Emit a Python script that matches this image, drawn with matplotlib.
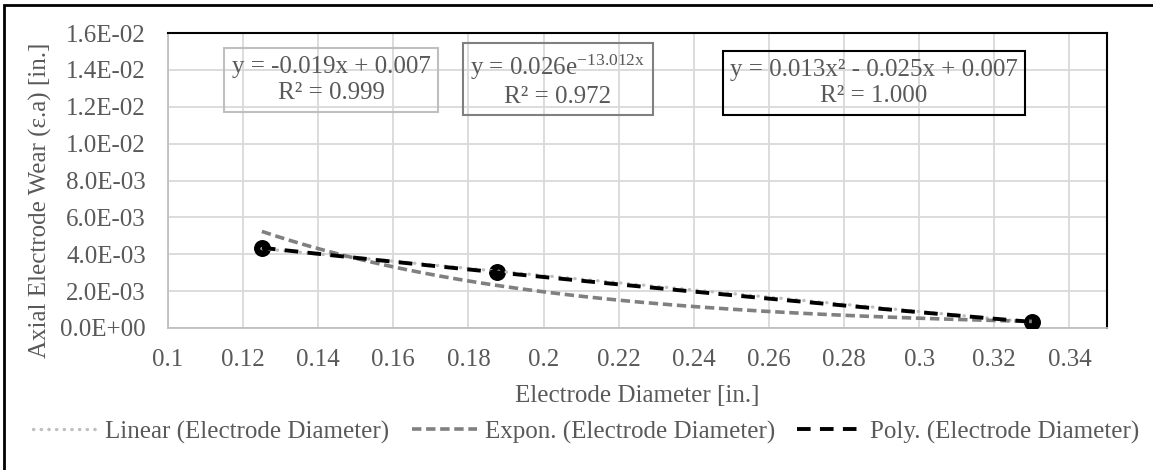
import numpy as np
import matplotlib
matplotlib.use("Agg")
import matplotlib.pyplot as plt
from matplotlib.lines import Line2D
from matplotlib.patches import Rectangle

# data
diameter = [0.125, 0.1875, 0.33]
wear = [4.35e-3, 3.02e-3, 0.33e-3]

eq_linear = "y = -0.019x + 0.007\nR² = 0.999"
eq_expon = "y = 0.026e$^{-13.012x}$\nR² = 0.972"
eq_poly = "y = 0.013x² - 0.025x + 0.007\nR² = 1.000"

legend_labels = ["Linear (Electrode Diameter)",
                 "Expon. (Electrode Diameter)",
                 "Poly. (Electrode Diameter)"]

x_ticks = [0.1, 0.12, 0.14, 0.16, 0.18, 0.2, 0.22, 0.24, 0.26, 0.28, 0.3, 0.32, 0.34]
x_tick_labels = ["0.1", "0.12", "0.14", "0.16", "0.18", "0.2", "0.22", "0.24",
                 "0.26", "0.28", "0.3", "0.32", "0.34"]
y_ticks = [0, 0.002, 0.004, 0.006, 0.008, 0.010, 0.012, 0.014, 0.016]
y_tick_labels = ["0.0E+00", "2.0E-03", "4.0E-03", "6.0E-03", "8.0E-03",
                 "1.0E-02", "1.2E-02", "1.4E-02", "1.6E-02"]

plt.rcParams["font.family"] = ["Liberation Serif", "DejaVu Serif"]
plt.rcParams["mathtext.fontset"] = "custom"
plt.rcParams["mathtext.rm"] = "Liberation Serif"
plt.rcParams["mathtext.it"] = "Liberation Serif"
plt.rcParams["mathtext.default"] = "regular"

txt = "#595959"
fs = 18

W, H = 1153, 470
fig = plt.figure(figsize=(W / 100, H / 100), dpi=100)
ax = fig.add_axes([168 / W, 1 - 328 / H, (1107 - 168) / W, (328 - 33) / H])

# trendlines (fits of the data, as Excel does)
x = np.array(diameter)
y = np.array(wear)
xs = np.linspace(x.min(), x.max(), 300)
lin = np.polyfit(x, y, 1)
ex = np.polyfit(x, np.log(y), 1)
pol = np.polyfit(x, y, 2)

ax.scatter(x, y, s=125, color="black", zorder=3)
ax.plot(xs, np.polyval(lin, xs), color="#BFBFBF", lw=2.4, linestyle=(0, (0.1, 2.2)),
        dash_capstyle="round", zorder=4)
ax.plot(xs, np.exp(np.polyval(ex, xs)), color="#808080", lw=2.6, dashes=(2.6, 1.3), zorder=4)
ax.plot(xs, np.polyval(pol, xs), color="black", lw=2.8, dashes=(3.5, 2.4), zorder=5)

ax.set_xlim(0.1, 0.35)
ax.set_ylim(0, 0.016)
ax.set_xticks(x_ticks)
ax.set_xticklabels(x_tick_labels)
ax.set_yticks(y_ticks)
ax.set_yticklabels(y_tick_labels)
ax.tick_params(axis="both", length=0, labelsize=fs, labelcolor=txt)
ax.tick_params(axis="y", pad=16)
ax.tick_params(axis="x", pad=15)
ax.grid(True, color="#D9D9D9", lw=1.3)
ax.set_axisbelow(True)
for s in ["left", "bottom"]:
    ax.spines[s].set_color("#BFBFBF")
    ax.spines[s].set_linewidth(1.3)
for s in ["top", "right"]:
    ax.spines[s].set_color("black")
    ax.spines[s].set_linewidth(1.5)

ax.set_xlabel("Electrode Diameter [in.]", fontsize=fs, color=txt, labelpad=10)
fig.text(40 / W, 1 - 200 / H, "Axial Electrode Wear (ε.a) [in.]", rotation=90,
         fontsize=fs, color=txt, ha="center", va="center")

# equation boxes
for cx, cy, s, ec in [(331, 80, eq_linear, "#BFBFBF"),
                      (558, 80, eq_expon, "#808080"),
                      (874, 83, eq_poly, "black")]:
    fig.text(cx / W, 1 - cy / H, s, fontsize=fs, color=txt, ha="center", va="center",
             linespacing=1.25, multialignment="center",
             bbox=dict(boxstyle="square,pad=0.3", fc="none", ec=ec, lw=1.5))

handles = [
    Line2D([], [], color="#BFBFBF", lw=2.4, linestyle=(0, (0.1, 2.2)), dash_capstyle="round"),
    Line2D([], [], color="#808080", lw=2.6, dashes=(2.6, 1.3)),
    Line2D([], [], color="black", lw=2.8, dashes=(3.5, 2.4)),
]
fig.legend(handles, legend_labels, loc="center", bbox_to_anchor=(586 / W, 1 - 432 / H),
           ncol=3, frameon=False, fontsize=fs, labelcolor=txt, handlelength=2.6,
           handletextpad=0.3, columnspacing=0.9)

fig.patches.append(Rectangle((4 / W, -0.1), 1.2, 1 - 5 / H + 0.1, transform=fig.transFigure,
                             fill=False, ec="black", lw=2))

fig.savefig("out.png", dpi=100)
